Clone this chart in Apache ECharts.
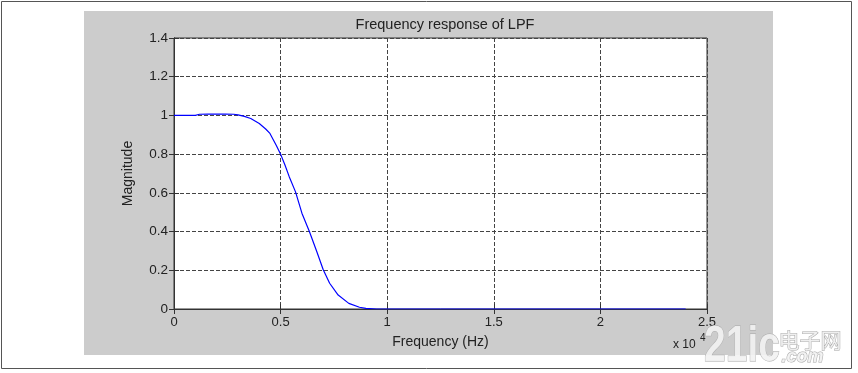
<!DOCTYPE html>
<html>
<head>
<meta charset="utf-8">
<script src="https://cdn.jsdelivr.net/npm/echarts@6/dist/echarts.min.js"></script>
<style>
html,body{margin:0;padding:0;background:#fff;}
#chart{width:858px;height:373px;}
</style>
</head>
<body>
<div id="chart"></div>
<script>
// Data
var titleText = 'Frequency response of LPF';
var xAxisName = 'Frequency (Hz)';
var yAxisName = 'Magnitude';
var freqHz = [0, 1000, 1200, 1600, 2000, 2400, 2800, 3000, 3300, 3600, 4000, 4300, 4500, 4800, 5000, 5200, 5400, 5700, 6000, 6350, 6700, 7000, 7300, 7700, 8200, 8700, 9000, 9500, 24000];
var magnitude = [1.0, 1.0, 1.006, 1.007, 1.007, 1.007, 1.006, 1.003, 0.995, 0.984, 0.958, 0.93, 0.907, 0.845, 0.80, 0.745, 0.685, 0.605, 0.495, 0.40, 0.296, 0.203, 0.133, 0.072, 0.029, 0.009, 0.003, 0.0, 0.0];
var xTicks = [0, 5000, 10000, 15000, 20000, 25000];
var yTicks = [0, 0.2, 0.4, 0.6, 0.8, 1.0, 1.2, 1.4];
var xScaleLabel = 'x 10';
var xScaleExp = '4';

var chart = echarts.init(document.getElementById('chart'), null, {renderer: 'canvas'});
var font = 'Liberation Sans, Arial, sans-serif';
var points = freqHz.map(function (f, i) { return [f, magnitude[i]]; });

var gridLine = {show: true, lineStyle: {color: '#444', type: [4, 2], width: 1}};
var axLine = {show: true, lineStyle: {color: '#333', width: 1}};
var wm = 'rgba(242,242,242,0.9)';

chart.setOption({
  animation: false,
  backgroundColor: '#fff',
  graphic: [
    {type: 'rect', z: -10, shape: {x: 1.5, y: 1.5, width: 850, height: 367}, style: {fill: '#fff', stroke: '#555', lineWidth: 1}},
    {type: 'rect', z: -9, shape: {x: 84, y: 11, width: 689, height: 344}, style: {fill: '#cccccc'}},
    {type: 'text', z: 10, left: 673, top: 339, style: {text: xScaleLabel, font: '12px ' + font, fill: '#222'}},
    {type: 'text', z: 10, left: 700, top: 333, style: {text: xScaleExp, font: '10px ' + font, fill: '#222'}},
    {type: 'text', z: 5, x: 704, y: 322, scaleX: 0.78, style: {text: '21ic', font: 'bold 50px ' + font, fill: wm, stroke: '#aaa', lineWidth: 1}},
    {type: 'text', z: 5, left: 778, top: 329, style: {text: '电子网', font: '21px Noto Sans CJK SC', fill: wm, stroke: '#aaa', lineWidth: 1}},
    {type: 'text', z: 5, left: 781, top: 348, style: {text: '.com', font: 'italic bold 18px ' + font, fill: wm, stroke: '#aaa', lineWidth: 1}}
  ],
  title: {
    text: titleText,
    left: 440, top: 12, textAlign: 'center',
    textStyle: {fontFamily: font, fontSize: 14.5, fontWeight: 'normal', color: '#222'}
  },
  grid: {left: 174, top: 38, right: 151, bottom: 64, show: true, backgroundColor: '#fff', borderColor: '#333', borderWidth: 1},
  xAxis: [
    {
      type: 'value', min: 0, max: 25000, interval: 5000, position: 'bottom',
      name: xAxisName, nameLocation: 'middle', nameGap: 26,
      nameTextStyle: {fontFamily: font, fontSize: 14, color: '#222'},
      axisLine: axLine,
      axisTick: {show: true, inside: true, length: 5, lineStyle: {color: '#333'}},
      axisLabel: {fontFamily: font, fontSize: 13, color: '#222', margin: 7, formatter: function (v) { return String(v / 10000); }},
      splitLine: gridLine
    },
    {
      type: 'value', min: 0, max: 25000, interval: 5000, position: 'top',
      axisLine: axLine,
      axisTick: {show: true, inside: true, length: 5, lineStyle: {color: '#333'}},
      axisLabel: {show: false}, splitLine: {show: false}
    }
  ],
  yAxis: [
    {
      type: 'value', min: 0, max: 1.4, interval: 0.2, position: 'left',
      name: yAxisName, nameLocation: 'middle', nameGap: 39, nameRotate: 90,
      nameTextStyle: {fontFamily: font, fontSize: 14, color: '#222'},
      axisLine: axLine,
      axisTick: {show: true, inside: true, length: 5, lineStyle: {color: '#333'}},
      axisLabel: {fontFamily: font, fontSize: 13.5, color: '#222', margin: 6, formatter: function (v) { return String(Math.round(v * 10) / 10); }},
      splitLine: gridLine
    },
    {
      type: 'value', min: 0, max: 1.4, interval: 0.2, position: 'right',
      axisLine: axLine,
      axisTick: {show: true, inside: true, length: 5, lineStyle: {color: '#333'}},
      axisLabel: {show: false}, splitLine: {show: false}
    }
  ],
  series: [{
    type: 'line',
    data: points,
    xAxisIndex: 0, yAxisIndex: 0,
    showSymbol: false, symbol: 'none',
    smooth: false,
    lineStyle: {color: '#0000ff', width: 1.2},
    z: 3
  }]
});
</script>
</body>
</html>
